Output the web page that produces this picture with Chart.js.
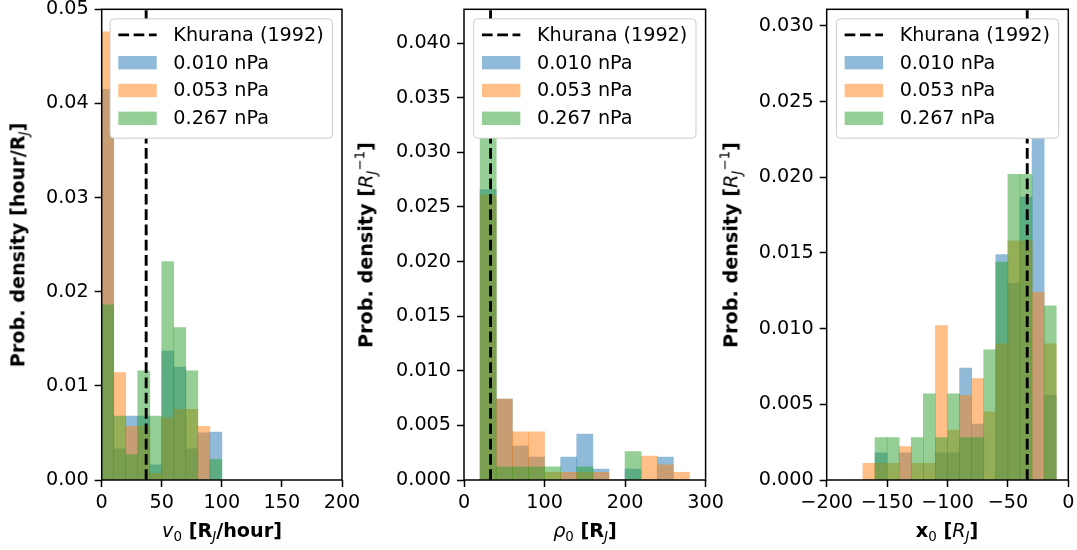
<!DOCTYPE html>
<html>
<head>
<meta charset="utf-8">
<script src="https://cdn.jsdelivr.net/npm/chart.js@4/dist/chart.umd.min.js"></script>
<style>
  body { margin: 0; background: #fff; width: 1077px; height: 550px; position: relative; overflow: hidden; font-family: "DejaVu Sans"; }
  canvas { position: absolute; top: 0; }
  .lab { position: absolute; font-size: 19.2px; font-weight: bold; white-space: nowrap; line-height: 1; color: #000; }
  .ylab { transform: translate(-50%, -50%) rotate(-90deg); }
  .xlab { transform: translate(-50%, -50%); }
  .m { font-style: italic; font-weight: normal; }
  .n { font-weight: normal; }
  .sb { font-size: 70%; position: relative; top: 0.3em; }
  .sp { font-size: 70%; position: relative; top: -0.6em; }
</style>
</head>
<body>
<canvas id="c1" width="380" height="550" style="left:0px"></canvas>
<canvas id="c2" width="380" height="550" style="left:362px"></canvas>
<canvas id="c3" width="353" height="550" style="left:724px"></canvas>

<div class="lab ylab" style="left:18px; top:245px">Prob. density [hour/R<span class="sb m">J</span>]</div>
<div class="lab ylab" style="left:366px; top:245px">Prob. density [<span class="m">R</span><span class="sb m">J</span><span class="sp n">&minus;1</span>]</div>
<div class="lab ylab" style="left:731px; top:245px">Prob. density [<span class="m">R</span><span class="sb m">J</span><span class="sp n">&minus;1</span>]</div>

<div class="lab xlab" style="left:222px; top:531px"><span class="m">v</span><span class="sb n">0</span> [R<span class="sb m">J</span>/hour]</div>
<div class="lab xlab" style="left:585px; top:531px"><span class="m">&rho;</span><span class="sb n">0</span> [R<span class="sb m">J</span>]</div>
<div class="lab xlab" style="left:947px; top:531px">x<span class="sb n">0</span> [<span class="m">R</span><span class="sb m">J</span>]</div>

<script>
var seriesLabels = ['0.010 nPa', '0.053 nPa', '0.267 nPa'];
var seriesColors = ['rgba(31,119,180,0.5)', 'rgba(255,127,14,0.5)', 'rgba(44,160,44,0.5)'];
var refLabel = 'Khurana (1992)';

// v0 histogram, bins of 10 R_J/hour
var v0Centers = [5, 15, 25, 35, 45, 55, 65, 75, 85, 95];
var v0Low  = [0.0415, 0.0033, 0.0068, 0.0068, 0.0016, 0.0137, 0.0120, 0.0033, 0.0050, 0.0051];
var v0Mid  = [0.0476, 0.0114, 0.0057, 0.0057, 0.0007, 0.0066, 0.0075, 0.0075, 0.0057, 0];
var v0High = [0.0186, 0.0068, 0.0027, 0.0116, 0.0068, 0.0232, 0.0162, 0.0116, 0, 0.0022];
var v0Ref = 37;
var v0XTicks = [0, 50, 100, 150, 200];
var v0YTicks = [0, 0.01, 0.02, 0.03, 0.04, 0.05];

// rho0 histogram, bins of 20 R_J
var rhoCenters = [30, 50, 70, 90, 110, 130, 150, 170, 190, 210, 230, 250, 270];
var rhoLow  = [0.0266, 0.0074, 0.0031, 0.0021, 0, 0.0021, 0.0042, 0.0010, 0, 0.0010, 0, 0.0021, 0];
var rhoMid  = [0.0261, 0.0074, 0.0044, 0.0044, 0.0007, 0.0007, 0.0007, 0.0007, 0, 0, 0.0022, 0.0014, 0.0007];
var rhoHigh = [0.0410, 0.0012, 0.0012, 0.0012, 0.0012, 0, 0.0012, 0, 0, 0.0026, 0, 0, 0];
var rhoRef = 33;
var rhoXTicks = [0, 100, 200, 300];
var rhoYTicks = [0, 0.005, 0.01, 0.015, 0.02, 0.025, 0.03, 0.035, 0.04];

// x0 histogram, bins of 10 R_J
var x0Centers = [-165, -155, -145, -135, -125, -115, -105, -95, -85, -75, -65, -55, -45, -35, -25, -15];
var x0Low  = [0, 0.0018, 0, 0.0018, 0, 0, 0.0018, 0.0018, 0.0074, 0.0037, 0, 0.0149, 0.0130, 0.0187, 0.0296, 0.0056];
var x0Mid  = [0.0011, 0.0011, 0.0011, 0.0022, 0.0011, 0.0011, 0.0102, 0.0033, 0.0056, 0.0067, 0.0045, 0.0090, 0.0158, 0.0158, 0.0124, 0.0090];
var x0High = [0, 0.0028, 0.0028, 0, 0.0028, 0.0057, 0.0028, 0.0057, 0.0028, 0.0028, 0.0086, 0.0144, 0.0202, 0.0202, 0, 0.0115];
var x0Ref = -34;
var x0XTicks = [-200, -150, -100, -50, 0];
var x0YTicks = [0, 0.005, 0.01, 0.015, 0.02, 0.025, 0.03];

var FS = 19.2;
var FONT = { family: 'DejaVu Sans', size: FS };

// axes frame + legend drawn inside the plot area, like matplotlib
var framePlugin = {
  id: 'frame',
  afterDraw: function(chart) {
    var a = chart.chartArea, ctx = chart.ctx;
    ctx.save();
    ctx.strokeStyle = '#000';
    ctx.lineWidth = 1.5;
    ctx.strokeRect(a.left, a.top, a.right - a.left, a.bottom - a.top);

    ctx.font = FS + 'px "DejaVu Sans"';
    var names = [refLabel].concat(seriesLabels);
    var textW = 0;
    names.forEach(function(s) { textW = Math.max(textW, ctx.measureText(s).width); });
    var w = textW + 72, h = 119.3;
    var right = a.right - 9.6, top = a.top + 9.6, left = right - w;
    ctx.beginPath();
    ctx.roundRect(left, top, w, h, 4);
    ctx.fillStyle = '#fff';
    ctx.fill();
    ctx.strokeStyle = '#cccccc';
    ctx.lineWidth = 1;
    ctx.stroke();

    var hx = left + 8.3, tx = left + 63.3;
    for (var i = 0; i < names.length; i++) {
      var cy = top + 16 + i * 27.8;
      if (i === 0) {
        ctx.beginPath();
        ctx.setLineDash([10.7, 4.6]);
        ctx.strokeStyle = '#000';
        ctx.lineWidth = 2.9;
        ctx.moveTo(hx, cy);
        ctx.lineTo(hx + 38.4, cy);
        ctx.stroke();
        ctx.setLineDash([]);
      } else {
        ctx.fillStyle = seriesColors[i - 1];
        ctx.fillRect(hx, cy - 6.7, 38.4, 13.4);
      }
      ctx.fillStyle = '#000';
      ctx.textBaseline = 'middle';
      ctx.textAlign = 'left';
      ctx.fillText(names[i], tx, cy + 1);
    }
    ctx.restore();
  }
};

function makeHist(id, centers, low, mid, high, ref, xTicks, yTicks, yMax, yDigits, yWidth, padRight) {
  var series = [low, mid, high];
  var datasets = [{
    type: 'line',
    label: refLabel,
    data: [{ x: ref, y: 0 }, { x: ref, y: yMax }],
    borderColor: '#000',
    borderWidth: 2.9,
    borderDash: [10.7, 4.6],
    pointRadius: 0,
    fill: false,
    order: 0
  }];
  series.forEach(function(vals, k) {
    datasets.push({
      label: seriesLabels[k],
      data: centers.map(function(c, i) { return { x: c, y: vals[i] }; }),
      backgroundColor: seriesColors[k],
      borderWidth: 0,
      order: 3 - k
    });
  });

  var tickGrid = { display: true, drawOnChartArea: false, drawTicks: true, tickLength: 7, tickWidth: 1.5, tickColor: '#000', offset: false };

  return new Chart(document.getElementById(id), {
    type: 'bar',
    data: { datasets: datasets },
    plugins: [framePlugin],
    options: {
      responsive: false,
      animation: false,
      devicePixelRatio: 1,
      layout: { padding: { top: 9.3, right: padRight, bottom: 0, left: 0 } },
      datasets: { bar: { barPercentage: 1, categoryPercentage: 1, grouped: false } },
      plugins: { legend: { display: false }, tooltip: { enabled: false } },
      scales: {
        x: {
          type: 'linear',
          min: xTicks[0],
          max: xTicks[xTicks.length - 1],
          offset: false,
          grid: tickGrid,
          border: { display: false },
          ticks: {
            color: '#000', font: FONT, padding: 4, maxRotation: 0, autoSkip: false,
            callback: function(v) { return String(v).replace('-', '\u2212'); }
          },
          afterBuildTicks: function(axis) { axis.ticks = xTicks.map(function(v) { return { value: v }; }); },
          afterFit: function(axis) { axis.height = 70; axis.paddingLeft = 0; axis.paddingRight = 0; }
        },
        y: {
          min: 0,
          max: yMax,
          grid: tickGrid,
          border: { display: false },
          ticks: {
            color: '#000', font: FONT, padding: 6,
            callback: function(v) { return v.toFixed(yDigits); }
          },
          afterBuildTicks: function(axis) { axis.ticks = yTicks.map(function(v) { return { value: v }; }); },
          afterFit: function(axis) { axis.width = yWidth; axis.paddingTop = 0; axis.paddingBottom = 0; }
        }
      }
    }
  });
}

makeHist('c1', v0Centers, v0Low, v0Mid, v0High, v0Ref, v0XTicks, v0YTicks, 0.05, 2, 101.7, 38);
makeHist('c2', rhoCenters, rhoLow, rhoMid, rhoHigh, rhoRef, rhoXTicks, rhoYTicks, 0.0431, 3, 102, 36.4);
makeHist('c3', x0Centers, x0Low, x0Mid, x0High, x0Ref, x0XTicks, x0YTicks, 0.0311, 3, 102.7, 8.7);
</script>
</body>
</html>
